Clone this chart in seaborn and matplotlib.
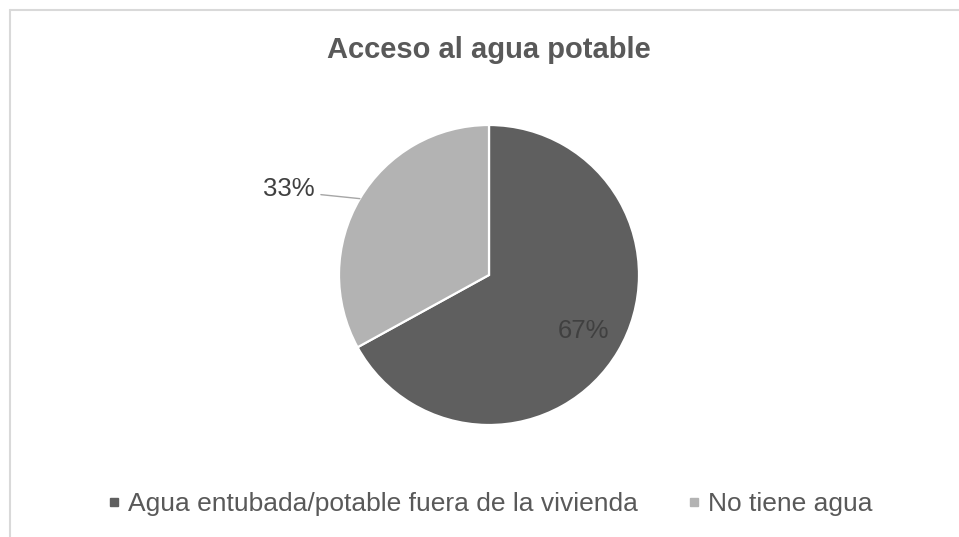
import numpy as np
import matplotlib
matplotlib.use("Agg")
import matplotlib.pyplot as plt
from matplotlib.lines import Line2D
import seaborn as sns

titulo = "Acceso al agua potable"
categorias = ["Agua entubada/potable fuera de la vivienda", "No tiene agua"]
porcentajes = [67, 33]
colores = ["#5F5F5F", "#B3B3B3"]

sns.set_theme(style="white")
plt.rcParams["font.family"] = ["Liberation Sans", "DejaVu Sans"]

W, H = 959, 537
fig = plt.figure(figsize=(W / 100, H / 100), dpi=100)
ax = fig.add_axes([0, 0, 1, 1])

# pie in pixel-like data units (y up)
cx, cy, r = 489, H - 275, 150
wedges, _ = ax.pie(porcentajes, colors=colores, startangle=90, counterclock=False,
                   center=(cx, cy), radius=r,
                   wedgeprops=dict(edgecolor="white", linewidth=1.6))
ax.set_xlim(0, W)
ax.set_ylim(0, H)
ax.set_aspect("equal")
ax.axis("off")

for i, w in enumerate(wedges):
    mid = np.deg2rad((w.theta1 + w.theta2) / 2)
    etiqueta = f"{porcentajes[i]}%"
    if i == 0:
        ax.text(cx + 0.73 * r * np.cos(mid), cy + 0.73 * r * np.sin(mid), etiqueta,
                ha="center", va="center", fontsize=18.5, color="#404040")
    else:
        ex, ey = cx + r * np.cos(mid), cy + r * np.sin(mid)
        lx, ly = ex - 39, ey + 4
        ax.plot([ex, lx], [ey, ly], color="#A6A6A6", lw=1)
        ax.text(lx - 6, ly - 1.5, etiqueta, ha="right", va="baseline",
                fontsize=18.5, color="#404040")

fig.text(489 / W, 1 - 58 / H, titulo, ha="center", va="baseline",
         fontsize=21, fontweight="bold", color="#595959")

handles = [Line2D([], [], marker="s", linestyle="none", markersize=5.8,
                  markerfacecolor=c, markeredgecolor=c) for c in colores]
fig.legend(handles, categorias, loc="center", bbox_to_anchor=(490 / W, 1 - 504 / H),
           ncol=2, frameon=False, fontsize=19, handlelength=0.5,
           handletextpad=0.3, columnspacing=1.85, labelcolor="#595959")

# chart area border (only top and left are visible in the crop)
fig.add_artist(Line2D([9.5 / W, 9.5 / W], [0, 1 - 9.5 / H], transform=fig.transFigure,
                      color="#D9D9D9", lw=1.5))
fig.add_artist(Line2D([9.5 / W, 1], [1 - 9.5 / H, 1 - 9.5 / H], transform=fig.transFigure,
                      color="#D9D9D9", lw=1.5))

fig.savefig("out.png", dpi=100, facecolor="white")
